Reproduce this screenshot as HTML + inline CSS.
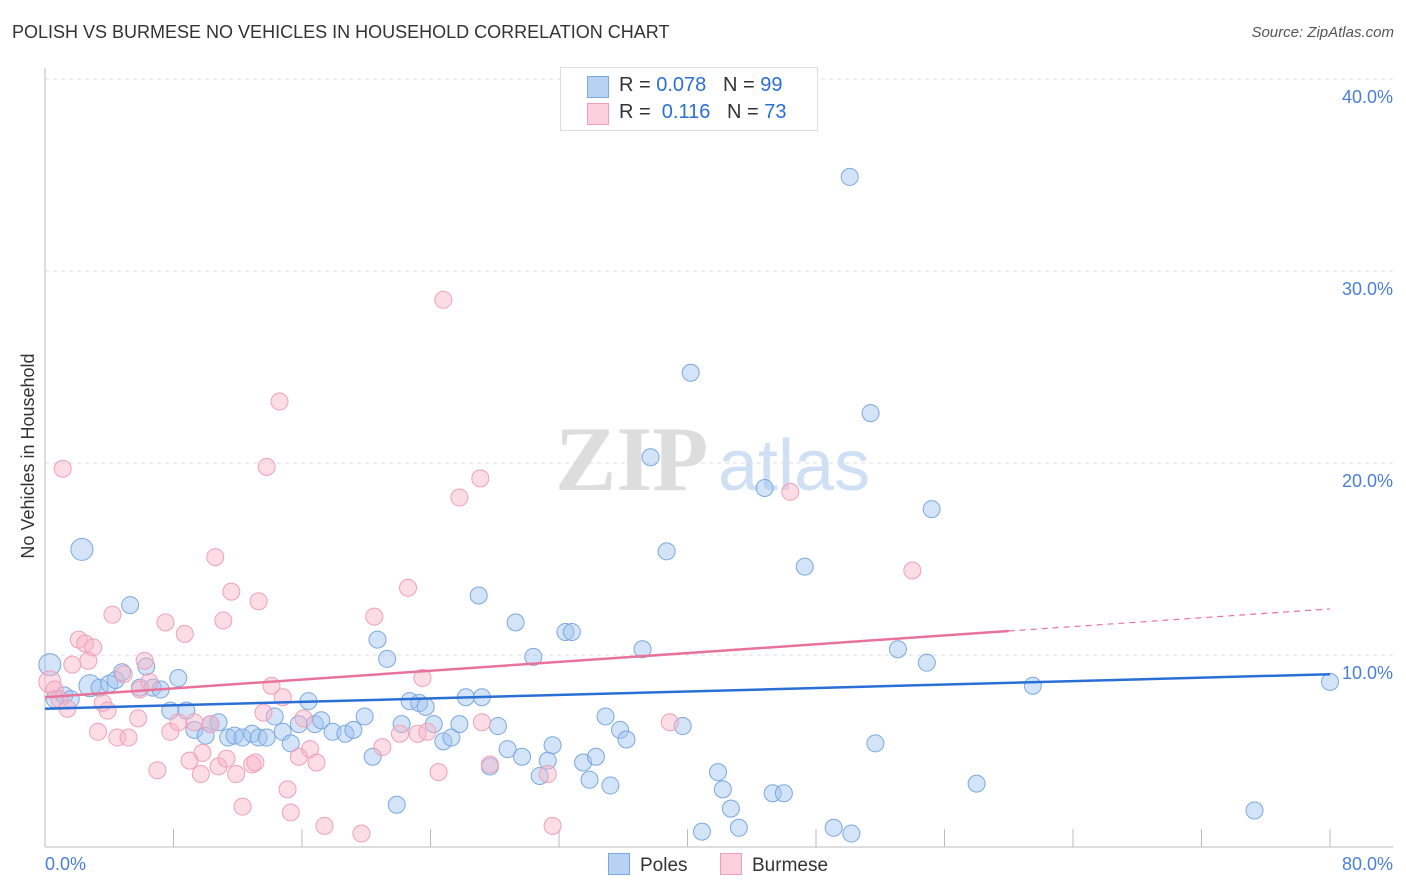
<!DOCTYPE html>
<html><head><meta charset="utf-8"><style>
body{margin:0;background:#fff;font-family:"Liberation Sans",sans-serif}
#wrap{position:relative;width:1406px;height:892px;overflow:hidden}
.t{position:absolute;white-space:nowrap}
</style></head><body>
<div id="wrap">
<div class="t" style="left:12px;top:22px;font-size:18px;color:#333">POLISH VS BURMESE NO VEHICLES IN HOUSEHOLD CORRELATION CHART</div>
<div class="t" style="right:12px;top:24px;font-size:15px;color:#555;font-style:italic">Source: ZipAtlas.com</div>
<svg id="svg" width="1406" height="892" style="position:absolute;left:0;top:0"></svg>
</div>
<script>
const yTicks=[10,20,30,40];
const yTickLabels=["10.0%","20.0%","30.0%","40.0%"];
const xTickLabels=["0.0%","80.0%"];
const polesX=[0.3,0.6,1.2,1.6,2.3,2.8,3.4,4.0,4.4,4.8,5.3,5.9,6.3,6.7,7.2,7.8,8.3,8.8,9.3,10.0,10.3,10.8,11.4,11.8,12.3,12.9,13.3,13.8,14.3,14.8,15.3,15.8,16.4,16.8,17.2,17.9,18.7,19.2,19.9,20.4,20.7,21.3,21.9,22.2,22.7,23.3,23.7,24.2,24.8,25.3,25.8,26.2,27.0,27.2,27.7,28.2,28.8,29.3,29.7,30.4,30.8,31.3,31.6,32.4,32.8,33.5,33.9,34.3,34.9,35.2,35.8,36.2,37.2,37.7,38.7,39.7,40.2,40.9,41.9,42.2,42.7,43.2,44.8,45.3,46.0,47.3,49.1,50.1,50.2,51.4,51.7,53.1,54.9,55.2,58.0,61.5,75.3,80.0];
const polesY=[9.5,7.7,7.9,7.7,15.5,8.4,8.3,8.5,8.7,9.1,12.6,8.3,9.4,8.3,8.2,7.1,8.8,7.1,6.1,5.8,6.4,6.5,5.7,5.8,5.7,5.9,5.7,5.7,6.8,6.0,5.4,6.4,7.6,6.4,6.6,6.0,5.9,6.1,6.8,4.7,10.8,9.8,2.2,6.4,7.6,7.5,7.3,6.4,5.5,5.7,6.4,7.8,13.1,7.8,4.2,6.3,5.1,11.7,4.7,9.9,3.7,4.5,5.3,11.2,11.2,4.4,3.5,4.7,6.8,3.2,6.1,5.6,10.3,20.3,15.4,6.3,24.7,0.8,3.9,3.0,2.0,1.0,18.7,2.8,2.8,14.6,1.0,34.9,0.7,22.6,5.4,10.3,9.6,17.6,3.3,8.4,1.9,8.6];
const burX=[0.3,0.6,0.9,1.1,1.4,1.7,2.1,2.5,2.7,3.0,3.3,3.6,3.9,4.2,4.5,4.9,5.2,5.8,5.9,6.2,6.5,7.0,7.5,7.8,8.3,8.7,9.0,9.3,9.7,9.8,10.3,10.6,10.8,11.1,11.3,11.6,11.9,12.3,12.9,13.1,13.3,13.6,13.8,14.1,14.6,14.8,15.1,15.3,15.8,16.1,16.5,16.9,17.4,19.7,20.5,21.0,22.1,22.6,23.2,23.5,23.8,24.5,24.8,25.8,27.1,27.2,27.7,31.3,31.6,38.9,46.4,54.0];
const burY=[8.6,8.2,7.7,19.7,7.2,9.5,10.8,10.6,9.7,10.4,6.0,7.5,7.1,12.1,5.7,9.0,5.7,6.7,8.2,9.7,8.6,4.0,11.7,6.0,6.5,11.1,4.5,6.5,3.8,4.9,6.4,15.1,4.2,11.8,4.6,13.3,3.8,2.1,4.3,4.4,12.8,7.0,19.8,8.4,23.2,7.8,3.0,1.8,4.7,6.7,5.1,4.4,1.1,0.7,12.0,5.2,5.9,13.5,5.9,8.8,6.0,3.9,28.5,18.2,19.2,6.5,4.3,3.8,1.1,6.5,18.5,14.4];
const polesTrend=[7.2,9.0];
const burTrend=[7.8,12.4];
const bigPoles=[0,4,5], bigBur=[0];
const NS="http://www.w3.org/2000/svg", svg=document.getElementById('svg');
const X0=45,X1=1330,Y0=847,Y40=79;
const xs=v=>X0+v/80*(X1-X0), ys=v=>Y0-v/40*(Y0-Y40);
function mk(t,a){const e=document.createElementNS(NS,t);for(const k in a)e.setAttribute(k,a[k]);svg.appendChild(e);return e;}
let w=mk('text',{x:555,y:490,'font-size':92,fill:'#ddd','font-family':'Liberation Serif',"font-weight":"bold"});w.textContent='ZIP';

w=mk('text',{x:718,y:490,'font-size':72,fill:'#cfe0f5','font-family':'Liberation Sans'});w.textContent='atlas';

yTicks.forEach((v,i)=>{let g=mk('line',{x1:X0,x2:1393,y1:ys(v),y2:ys(v),stroke:'#ddd','stroke-dasharray':'4,4'});

let t=mk('text',{x:1393,y:ys(v)+24,'text-anchor':'end','font-size':18,fill:'#4a7fd8'});t.textContent=yTickLabels[i];
});
let a=mk('line',{x1:X0,x2:X0,y1:68,y2:Y0,stroke:'#bbb'});
a=mk('line',{x1:X0,x2:1393,y1:Y0,y2:Y0,stroke:'#bbb'});
for(let i=0;i<=10;i++){let t=mk('line',{x1:xs(i*8),x2:xs(i*8),y1:Y0,y2:Y0-18,stroke:'#bbb'});}
let l=mk('text',{x:45,y:870,'font-size':18,fill:'#4a7fd8'});l.textContent=xTickLabels[0];
l=mk('text',{x:1393,y:870,'font-size':18,fill:'#4a7fd8','text-anchor':'end'});l.textContent=xTickLabels[1];
l=mk('text',{x:34,y:456,'font-size':18,fill:'#333','text-anchor':'middle',transform:'rotate(-90 34 456)'});l.textContent='No Vehicles in Household';

function pts(X,Y,big,fill,stroke,name){X.forEach((x,i)=>{let c=mk('circle',{cx:xs(x),cy:ys(Y[i]),r:big.includes(i)?11:8.5,fill:fill,stroke:stroke,'stroke-width':1});
});}
pts(polesX,polesY,bigPoles,'rgba(160,196,240,0.45)','#7aa8e0','poles-point');
pts(burX,burY,bigBur,'rgba(248,180,200,0.45)','#f0a0b8','burmese-point');
let tl=mk('line',{x1:xs(0),y1:ys(polesTrend[0]),x2:xs(80),y2:ys(polesTrend[1]),stroke:'#2a6fd6','stroke-width':2.5});

const bAt=v=>burTrend[0]+(burTrend[1]-burTrend[0])*v/80;
tl=mk('line',{x1:xs(0),y1:ys(bAt(0)),x2:xs(60),y2:ys(bAt(60)),stroke:'#e8739a','stroke-width':2.5});

tl=mk('line',{x1:xs(60),y1:ys(bAt(60)),x2:xs(80),y2:ys(bAt(80)),stroke:'#e8739a','stroke-width':1.2,'stroke-dasharray':'6,5'});

</script>
<div class="t" style="left:560px;top:67px;width:256px;height:62px;border:1px solid #ddd;background:#fff;font-size:20px;color:#333">
<div style="position:absolute;left:26px;top:8px;width:20px;height:20px;background:#b8d2f4;border:1px solid #7aa8e0"></div>
<div style="position:absolute;left:58px;top:6px">R = <span style="color:#2a6fd6">0.078</span>&nbsp;&nbsp;&nbsp;N = <span style="color:#2a6fd6">99</span></div>
<div style="position:absolute;left:26px;top:35px;width:20px;height:20px;background:#fbd0dc;border:1px solid #f0a0b8"></div>
<div style="position:absolute;left:58px;top:33px">R = &nbsp;<span style="color:#2a6fd6">0.116</span>&nbsp;&nbsp;&nbsp;N = <span style="color:#2a6fd6">73</span></div>
</div>
<div class="t" style="left:608px;top:853px;font-size:19px;color:#333"><span style="display:inline-block;width:20px;height:20px;background:#b8d2f4;border:1px solid #7aa8e0;vertical-align:-4px;margin-right:10px"></span>Poles</div>
<div class="t" style="left:720px;top:853px;font-size:19px;color:#333"><span style="display:inline-block;width:20px;height:20px;background:#fbd0dc;border:1px solid #f0a0b8;vertical-align:-4px;margin-right:10px"></span>Burmese</div>
</body></html>
